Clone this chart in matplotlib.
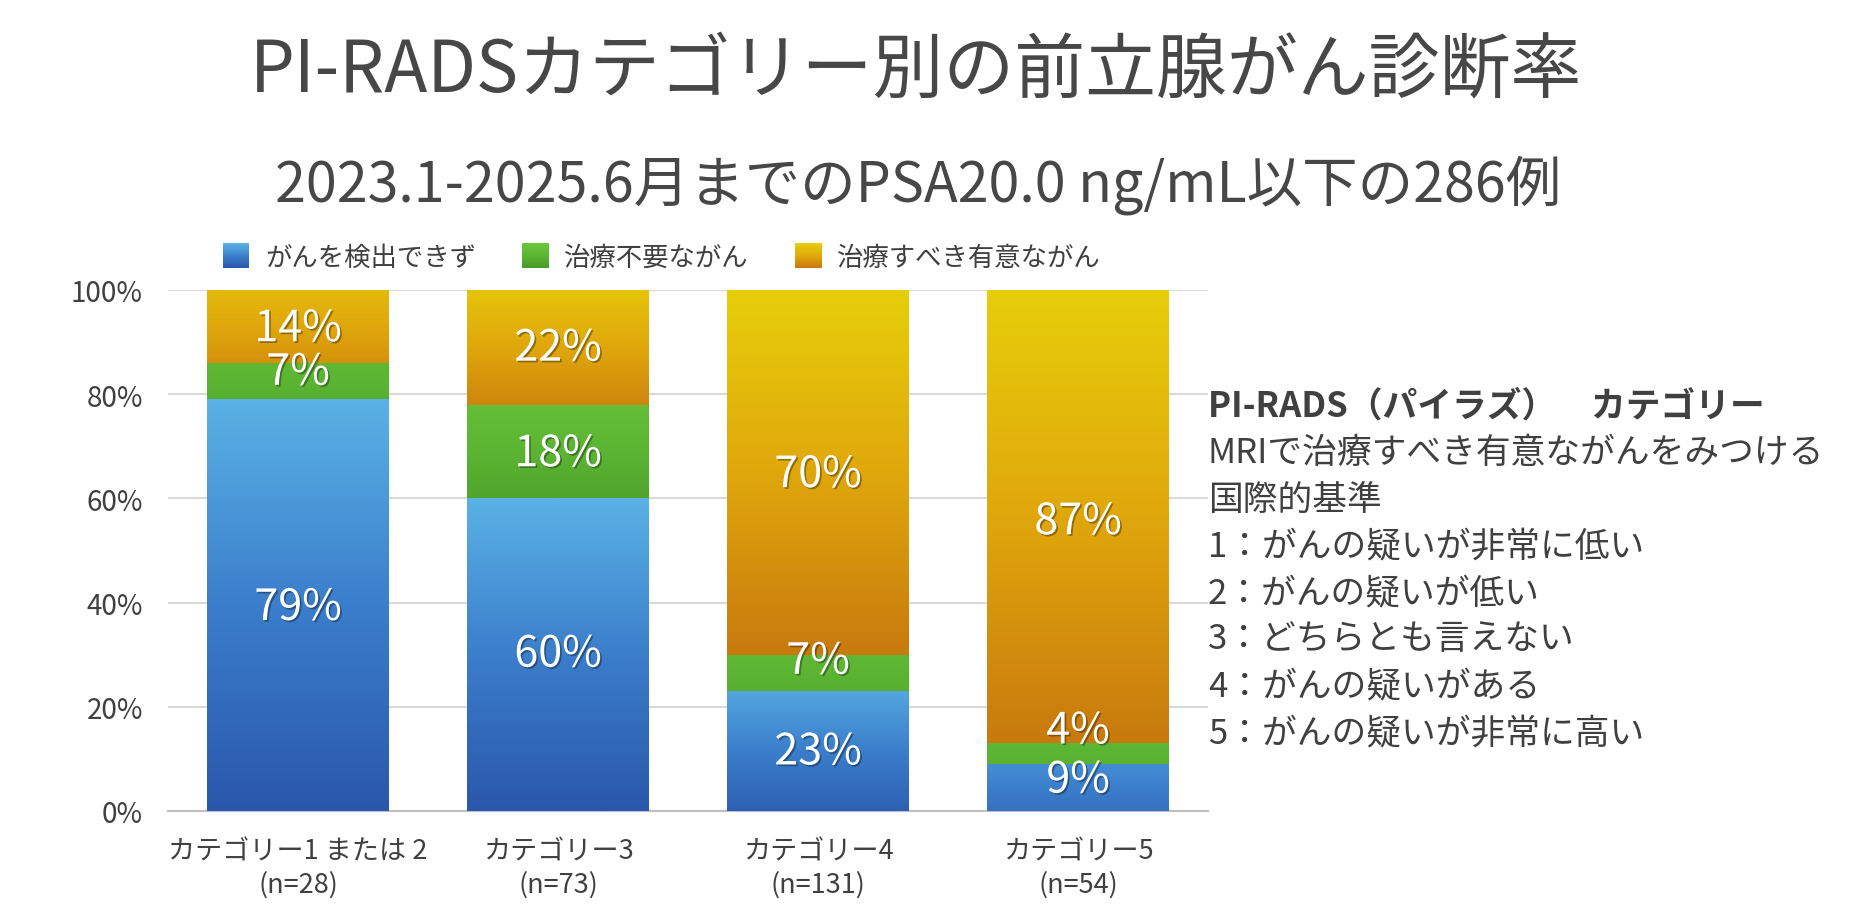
import numpy as np
import matplotlib
matplotlib.use("Agg")
import matplotlib.pyplot as plt
import matplotlib.patheffects as pe
from matplotlib.colors import LinearSegmentedColormap
from matplotlib.patches import Rectangle
from matplotlib.legend_handler import HandlerBase

plt.rcParams['font.family'] = ['Noto Sans CJK JP', 'DejaVu Sans']

# ---------------- data ----------------
categories = ["カテゴリー1 または 2\n(n=28)", "カテゴリー3\n(n=73)",
              "カテゴリー4\n(n=131)", "カテゴリー5\n(n=54)"]
series_names = ["がんを検出できず", "治療不要ながん", "治療すべき有意ながん"]
not_detected = [79, 60, 23, 9]
no_treatment = [7, 18, 7, 4]
significant = [14, 22, 70, 87]
series_values = [not_detected, no_treatment, significant]
y_ticks = [0, 20, 40, 60, 80, 100]

title = "PI-RADSカテゴリー別の前立腺がん診断率"
subtitle = "2023.1-2025.6月までのPSA20.0 ng/mL以下の286例"
side_lines = ["PI-RADS（パイラズ）　カテゴリー",
              "MRIで治療すべき有意ながんをみつける",
              "国際的基準",
              "1：がんの疑いが非常に低い",
              "2：がんの疑いが低い",
              "3：どちらとも言えない",
              "4：がんの疑いがある",
              "5：がんの疑いが非常に高い"]

# ---------------- style ----------------
grad_colors = [  # bottom -> top
    ["#2a57ab", "#3b7ecb", "#5ab2e5"],
    ["#4a9a2b", "#5bb532", "#6dc53c"],
    ["#c87a0e", "#e0a70c", "#e6ce0a"],
]
cmaps = [LinearSegmentedColormap.from_list(f"g{i}", c) for i, c in enumerate(grad_colors)]
label_offsets = [  # points upward
    [-2, 0, -1, 5],
    [6, -2, 8, 16],
    [-2, -1, -2, -4],
]
text_color = "#404040"

W, H = 1856, 912
fig = plt.figure(figsize=(W / 100, H / 100), dpi=100)
ax = fig.add_axes([168 / W, 1 - 812 / H, (1208 - 168) / W, (812 - 291) / H])

x = np.arange(len(categories))
bar_w = 0.70
bottoms = np.zeros(len(categories))
for si, vals in enumerate(series_values):
    bars = ax.bar(x, vals, bottom=bottoms, width=bar_w,
                  color=grad_colors[si][1], linewidth=0, zorder=2)
    for bi, patch in enumerate(bars.patches):
        x0, y0 = patch.get_x(), patch.get_y()
        w, h = patch.get_width(), patch.get_height()
        span = min(1.0, h / 30.0)
        t = np.linspace(0.5 - span / 2, 0.5 + span / 2, 256)
        img = cmaps[si](t)[:, None, :]
        im = ax.imshow(img, extent=[x0, x0 + w, y0, y0 + h], origin='lower',
                       aspect='auto', interpolation='bilinear', zorder=3)
        im.set_clip_path(patch)
        ax.annotate(f"{vals[bi]}%", (x0 + w / 2, y0 + h / 2),
                    xytext=(0, label_offsets[si][bi]), textcoords='offset points',
                    ha='center', va='center', fontsize=31, color='white', zorder=5,
                    path_effects=[pe.SimplePatchShadow(offset=(1.2, -1.2),
                                                       shadow_rgbFace='black', alpha=0.35),
                                  pe.Normal()])
    bottoms = bottoms + np.array(vals)

ax.set_xlim(-0.5, len(categories) - 0.5)
ax.set_ylim(0, 100)
ax.set_yticks(y_ticks)
ax.set_yticklabels([f"{v}%" for v in y_ticks])
ax.set_xticks(x)
ax.set_xticklabels(categories, linespacing=1.3)
ax.tick_params(axis='y', length=0, pad=18, labelsize=20, labelcolor=text_color)
ax.tick_params(axis='x', length=0, pad=19, labelsize=19.5, labelcolor=text_color)
for s in ['left', 'right', 'top']:
    ax.spines[s].set_visible(False)
ax.spines['bottom'].set_color('#bfbfbf')
ax.spines['bottom'].set_linewidth(1.5)
ax.yaxis.grid(True, color='#d9d9d9', linewidth=1.5)
ax.set_axisbelow(True)


class GradHandler(HandlerBase):
    def __init__(self, cmap):
        super().__init__()
        self.cmap = cmap

    def create_artists(self, legend, orig_handle, xdescent, ydescent, width,
                       height, fontsize, trans):
        n = 24
        arts = []
        for i in range(n):
            r = Rectangle((-xdescent, -ydescent + height * i / n), width,
                          height / n * 1.05, facecolor=self.cmap(i / (n - 1)),
                          edgecolor='none', lw=0, transform=trans)
            arts.append(r)
        return arts


handles = [Rectangle((0, 0), 1, 1) for _ in series_names]
fig.legend(handles, series_names, loc='center',
           bbox_to_anchor=(662 / W, 1 - 258 / H), ncol=3, frameon=False,
           fontsize=19, labelcolor=text_color, handlelength=1.0,
           handleheight=1.05, handletextpad=0.6, columnspacing=1.75,
           handler_map={h: GradHandler(cmaps[i]) for i, h in enumerate(handles)})

fig.text(916 / W, 1 - 72 / H, title, ha='center', va='center', fontsize=51,
         color='#474747')
fig.text(918 / W, 1 - 185 / H, subtitle, ha='center', va='center', fontsize=40,
         color='#474747')

side_y = [406, 454, 500, 547, 594, 640, 687, 734]
for i, (line, yy) in enumerate(zip(side_lines, side_y)):
    fig.text(1208 / W, 1 - yy / H, line, ha='left', va='center', fontsize=25,
             color=text_color, fontweight='bold' if i == 0 else 'normal')

fig.savefig("out.png", dpi=100, facecolor='white')
